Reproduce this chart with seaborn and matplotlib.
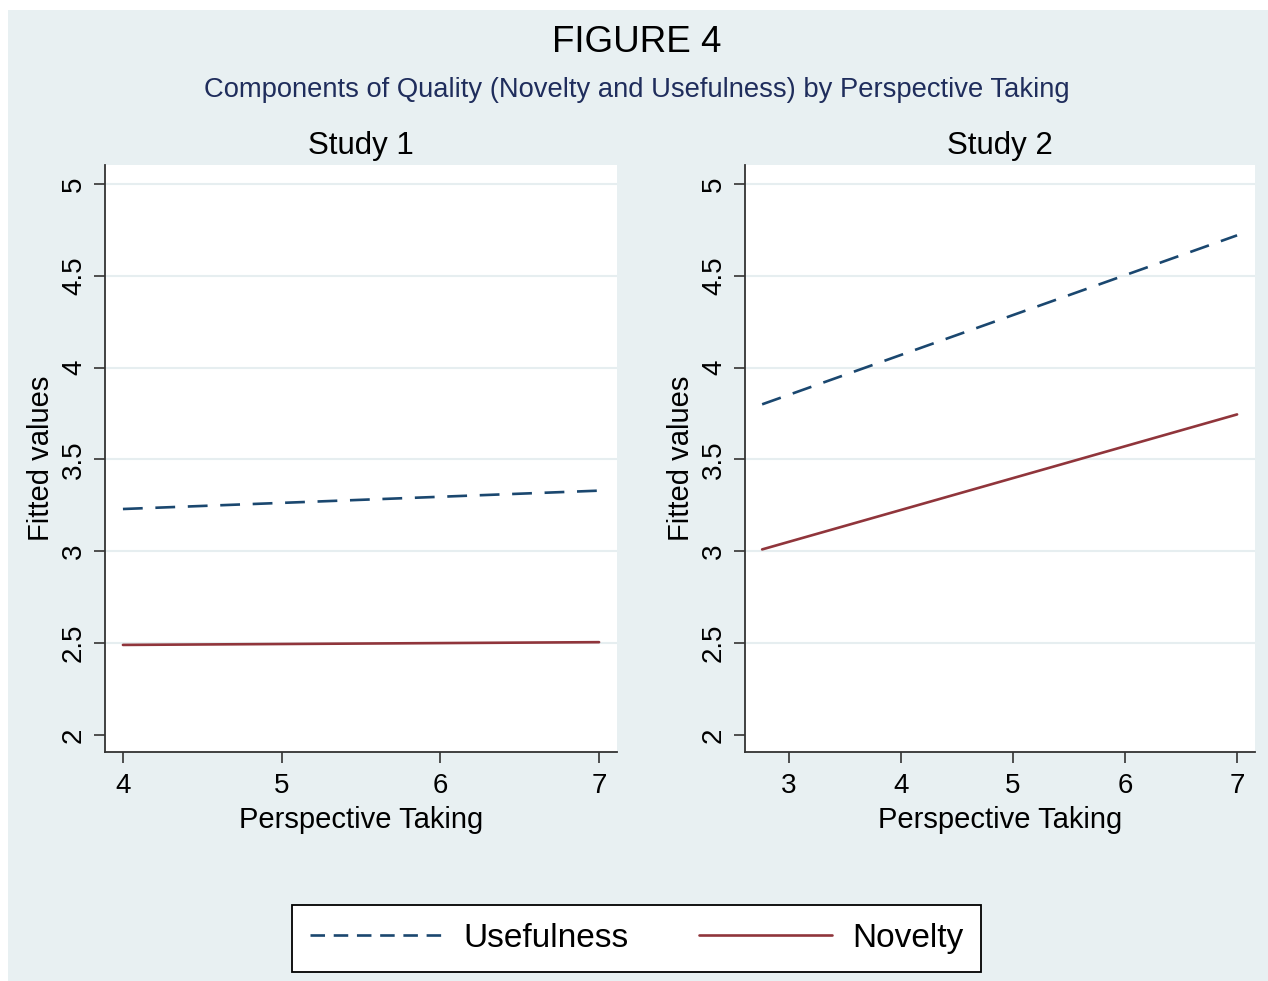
import matplotlib
matplotlib.use("Agg")
import matplotlib.pyplot as plt
from matplotlib.patches import Rectangle
import pandas as pd
import seaborn as sns

# Fitted values of each quality component against perspective taking
study1_x = [4.0, 7.0]
study1_usefulness = [3.23, 3.33]
study1_novelty = [2.49, 2.505]

study2_x = [2.76, 7.0]
study2_usefulness = [3.80, 4.72]
study2_novelty = [3.01, 3.745]

series_names = ["Usefulness", "Novelty"]
panel_titles = ["Study 1", "Study 2"]
study1_xticks = [4, 5, 6, 7]
study2_xticks = [3, 4, 5, 6, 7]
yticks = [2, 2.5, 3, 3.5, 4, 4.5, 5]
ytick_labels = ["2", "2.5", "3", "3.5", "4", "4.5", "5"]


def long_frame(x, useful, novel):
    return pd.DataFrame({
        "Perspective Taking": list(x) + list(x),
        "Fitted values": list(useful) + list(novel),
        "Measure": [series_names[0]] * len(x) + [series_names[1]] * len(x),
    })


frames = [
    long_frame(study1_x, study1_usefulness, study1_novelty),
    long_frame(study2_x, study2_usefulness, study2_novelty),
]

sns.set_theme(style="white")
plt.rcParams["font.family"] = ["Liberation Sans", "DejaVu Sans"]
plt.rcParams["text.color"] = "black"
plt.rcParams["axes.labelcolor"] = "black"

BG = "#e8f0f2"
GRID = "#e6eef0"
palette = {"Usefulness": "#1a476f", "Novelty": "#90353b"}
dashes = {"Usefulness": (7.5, 4.8), "Novelty": ""}
LW = 1.9

fig = plt.figure(figsize=(12.68, 9.81), dpi=100, facecolor="white")
fig.patches.append(Rectangle((8 / 1268, 0), 1 - 8 / 1268, 1 - 10 / 981,
                             transform=fig.transFigure, facecolor=BG,
                             edgecolor="none", zorder=-10))

ax_rects = [
    [105 / 1268, 1 - 752 / 981, 512 / 1268, 587 / 981],
    [745 / 1268, 1 - 752 / 981, 510 / 1268, 587 / 981],
]
xlims = [(3.887, 7.113), (2.607, 7.16)]
xticks_list = [study1_xticks, study2_xticks]

for i, df in enumerate(frames):
    ax = fig.add_axes(ax_rects[i])
    ax.set_facecolor("white")
    sns.lineplot(data=df, x="Perspective Taking", y="Fitted values",
                 hue="Measure", style="Measure", palette=palette,
                 dashes=dashes, linewidth=LW, ax=ax, legend=False)
    ax.set_xlim(*xlims[i])
    ax.set_ylim(1.907, 5.103)
    ax.set_xticks(xticks_list[i])
    ax.set_xticklabels([str(t) for t in xticks_list[i]])
    ax.set_yticks(yticks)
    ax.set_yticklabels(ytick_labels, rotation=90, va="center")
    for y in yticks[1:]:
        ax.axhline(y, color=GRID, lw=1.5, zorder=0)
    for side in ["top", "right"]:
        ax.spines[side].set_visible(False)
    for side in ["left", "bottom"]:
        ax.spines[side].set_color("#333333")
        ax.spines[side].set_linewidth(1.3)
    ax.tick_params(axis="both", direction="out", length=8, width=1.2,
                   color="#333333", labelsize=20, labelcolor="black",
                   left=True, bottom=True)
    ax.tick_params(axis="y", pad=5)
    ax.tick_params(axis="x", pad=7)
    ax.set_xlabel("Perspective Taking", fontsize=21, labelpad=5)
    ax.set_ylabel("Fitted values", fontsize=21, labelpad=4)
    ax.set_title(panel_titles[i], fontsize=22.5, pad=8)

fig.text(0.502, 0.957, "FIGURE 4", ha="center", va="center", fontsize=26.5,
         color="black")
fig.text(0.502, 0.908,
         "Components of Quality (Novelty and Usefulness) by Perspective Taking",
         ha="center", va="center", fontsize=19.7, color="#1f2d5c")

handles = [
    plt.Line2D([], [], color=palette["Usefulness"], lw=LW,
               dashes=(5.5, 3.3)),
    plt.Line2D([], [], color=palette["Novelty"], lw=LW),
]
leg = fig.legend(handles, series_names, loc="center",
                 bbox_to_anchor=(0.502, 0.0433), ncol=2, fontsize=24,
                 frameon=True, fancybox=False, edgecolor="black",
                 facecolor="white", framealpha=1, handlelength=4.0,
                 handletextpad=0.6, columnspacing=2.1, borderpad=0.55,
                 borderaxespad=0)
leg.get_frame().set_linewidth(1.3)

fig.savefig("out.png", dpi=100, facecolor=fig.get_facecolor())
